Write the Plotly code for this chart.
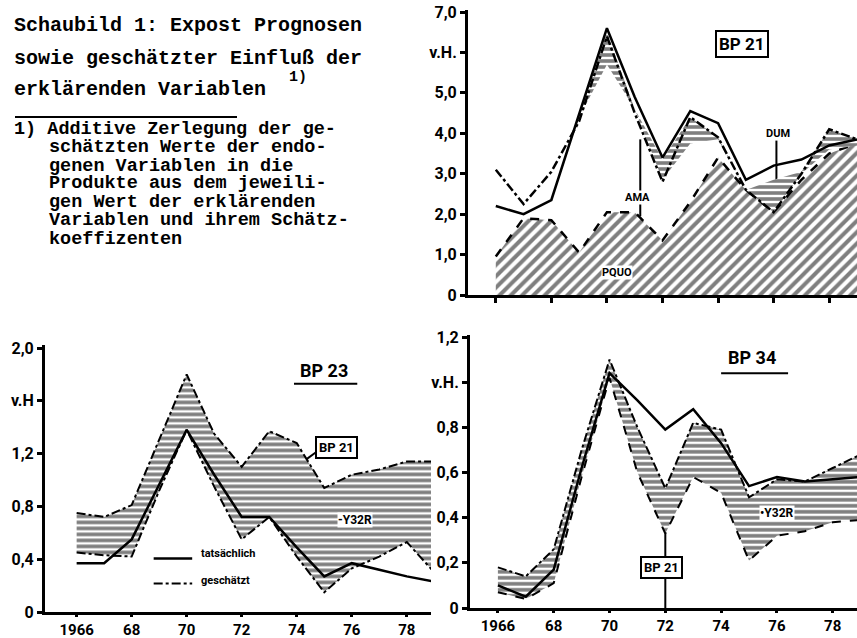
import plotly.graph_objects as go

years = list(range(1966, 1980))

# ---- BP 21 (top right) ----
bp21_actual = [2.2, 2.0, 2.35, 4.5, 6.6, 4.9, 3.4, 4.55, 4.25, 2.85, 3.2, 3.35, 3.7, 3.85]
bp21_estimated = [3.1, 2.25, 3.05, 4.3, 6.4, 4.5, 2.8, 4.4, 3.9, 2.6, 2.05, 3.0, 4.1, 3.85]
bp21_pquo = [0.95, 1.9, 1.85, 1.05, 2.05, 2.05, 1.35, 2.3, 3.4, 2.6, 2.05, 2.85, 3.5, 3.75]
bp21_band_hi = [3.1, 2.25, 3.05, 4.4, 6.5, 4.6, 3.35, 4.4, 3.9, 2.6, 2.85, 3.05, 4.1, 3.85]
bp21_band_lo = [3.1, 2.25, 3.05, 4.4, 5.7, 4.6, 2.85, 3.75, 3.85, 2.6, 2.05, 3.0, 3.6, 3.7]

# ---- BP 23 (bottom left) ----
bp23_actual = [0.37, 0.37, 0.55, 0.97, 1.38, 1.04, 0.72, 0.72, 0.49, 0.27, 0.37, 0.32, 0.27, 0.23]
bp23_estimated = [0.45, 0.43, 0.42, 0.92, 1.38, 0.95, 0.55, 0.72, 0.42, 0.15, 0.33, 0.42, 0.53, 0.30]
bp23_bp21 = [0.75, 0.72, 0.81, 1.3, 1.8, 1.35, 1.1, 1.37, 1.28, 0.94, 1.04, 1.08, 1.14, 1.14]

# ---- BP 34 (bottom right) ----
bp34_actual = [0.10, 0.05, 0.17, 0.62, 1.04, 0.92, 0.79, 0.88, 0.73, 0.54, 0.58, 0.56, 0.57, 0.58]
bp34_upper = [0.18, 0.14, 0.26, 0.70, 1.10, 0.80, 0.53, 0.82, 0.79, 0.49, 0.57, 0.56, 0.62, 0.68]
bp34_lower = [0.07, 0.04, 0.11, 0.58, 1.02, 0.60, 0.33, 0.58, 0.51, 0.21, 0.32, 0.34, 0.38, 0.39]

x_tickvals = [1966, 1968, 1970, 1972, 1974, 1976, 1978]
x_ticktext = ["1966", "68", "70", "72", "74", "76", "78"]
bp21_yvals = [0, 1, 2, 3, 4, 5, 6, 7]
bp21_ytext = ["0", "1,0", "2,0", "3,0", "4,0", "5,0", "v.H.", "7,0"]
bp23_yvals = [0, 0.4, 0.8, 1.2, 1.6, 2.0]
bp23_ytext = ["0", "0,4", "0,8", "1,2", "v.H", "2,0"]
bp34_yvals = [0, 0.2, 0.4, 0.6, 0.8, 1.0, 1.2]
bp34_ytext = ["0", "0,2", "0,4", "0,6", "0,8", "v.H.", "1,2"]

heading_lines = ["Schaubild 1: Expost Prognosen",
                 "sowie geschätzter Einfluß der",
                 "erklärenden Variablen"]
footnote_lines = ["1) Additive Zerlegung der ge-",
                  "schätzten Werte der endo-",
                  "genen Variablen in die",
                  "Produkte aus dem jeweili-",
                  "gen Wert der erklärenden",
                  "Variablen und ihrem Schätz-",
                  "koeffizenten"]

W, H = 857, 638
BLACK = "black"
HATCH_H = dict(shape="-", fgcolor=BLACK, bgcolor="white", size=6, solidity=0.6)
HATCH_D = dict(shape="/", fgcolor=BLACK, bgcolor="white", size=8, solidity=0.5)

fig = go.Figure()


def band(xa, ya, lo, hi):
    fig.add_trace(go.Scatter(x=years, y=lo, mode="lines", line=dict(width=0, color=BLACK),
                             xaxis=xa, yaxis=ya, showlegend=False, hoverinfo="skip"))
    fig.add_trace(go.Scatter(x=years, y=hi, mode="lines", line=dict(width=0, color=BLACK),
                             fill="tonexty", fillcolor="white", fillpattern=HATCH_H,
                             xaxis=xa, yaxis=ya, showlegend=False, hoverinfo="skip"))


def line(xa, ya, vals, dash, width=2.5):
    fig.add_trace(go.Scatter(x=years, y=vals, mode="lines",
                             line=dict(color=BLACK, width=width, dash=dash),
                             xaxis=xa, yaxis=ya, showlegend=False))


# BP 21
fig.add_trace(go.Scatter(x=years, y=bp21_pquo, mode="lines", fill="tozeroy", fillcolor="white",
                         fillpattern=HATCH_D, line=dict(color=BLACK, width=2.5, dash="dash"),
                         xaxis="x", yaxis="y", showlegend=False))
band("x", "y", bp21_band_lo, bp21_band_hi)
line("x", "y", bp21_estimated, "dashdot")
line("x", "y", bp21_actual, "solid")

# BP 23
band("x2", "y2", bp23_estimated, bp23_bp21)
line("x2", "y2", bp23_bp21, "dashdot", 2)
line("x2", "y2", bp23_estimated, "dashdot", 2)
line("x2", "y2", bp23_actual, "solid")

# BP 34
band("x3", "y3", bp34_lower, bp34_upper)
line("x3", "y3", bp34_upper, "dashdot", 2)
line("x3", "y3", bp34_lower, "dash", 2)
line("x3", "y3", bp34_actual, "solid")

tickfont = dict(family="Roboto", size=16, color=BLACK, weight="bold")
xtickfont = dict(family="Roboto", size=15, color=BLACK, weight="bold")
axis_common = dict(showline=True, linecolor=BLACK, linewidth=3, ticks="outside",
                   tickcolor=BLACK, tickwidth=2.5, showgrid=False, zeroline=False,
                   fixedrange=True, automargin=False)

fig.update_layout(
    width=W, height=H, autosize=False,
    margin=dict(l=0, r=0, t=0, b=0, pad=0),
    paper_bgcolor="white", plot_bgcolor="rgba(0,0,0,0)",
    showlegend=False,
    xaxis=dict(domain=[468 / W, 1.0], range=[1965.0, 1979.0], anchor="y",
               tickvals=x_tickvals, showticklabels=False, ticklen=5, tickfont=xtickfont, **axis_common),
    yaxis=dict(domain=[(H - 295) / H, (H - 10) / H], range=[0, 7.05], anchor="x",
               tickvals=bp21_yvals, ticktext=bp21_ytext, ticklen=5, tickfont=tickfont, **axis_common),
    xaxis2=dict(domain=[45 / W, 431 / W], range=[1964.85, 1978.88], anchor="y2",
                tickvals=x_tickvals, ticktext=x_ticktext, ticklen=2, tickfont=xtickfont, **axis_common),
    yaxis2=dict(domain=[(H - 612) / H, (H - 345.4) / H], range=[0, 2.02], anchor="x2",
                tickvals=bp23_yvals, ticktext=bp23_ytext, ticklen=5, tickfont=tickfont, **axis_common),
    xaxis3=dict(domain=[470 / W, 1.0], range=[1965.0, 1978.87], anchor="y3",
                tickvals=x_tickvals, ticktext=x_ticktext, ticklen=2, tickfont=xtickfont, **axis_common),
    yaxis3=dict(domain=[(H - 608) / H, (H - 334.8) / H], range=[0, 1.21], anchor="x3",
                tickvals=bp34_yvals, ticktext=bp34_ytext, ticklen=5, tickfont=tickfont, **axis_common),
)

ann = []
mono = "Liberation Mono"
head_y = [26, 59, 89]
for txt, yy in zip(heading_lines, head_y):
    ann.append(dict(text="<b>" + txt + "</b>", xref="paper", yref="paper", x=12 / W, y=(H - yy) / H,
                    xanchor="left", yanchor="middle", showarrow=False,
                    font=dict(family=mono, size=20, color=BLACK)))
ann.append(dict(text="<b>1)</b>", xref="paper", yref="paper", x=287 / W, y=(H - 78) / H,
                xanchor="left", yanchor="middle", showarrow=False,
                font=dict(family=mono, size=15, color=BLACK)))
foot_y = [129, 147.5, 166, 184, 202.5, 221, 239]
for i, (txt, yy) in enumerate(zip(footnote_lines, foot_y)):
    xx = 12 if i == 0 else 47
    ann.append(dict(text="<b>" + txt + "</b>", xref="paper", yref="paper", x=xx / W, y=(H - yy) / H,
                    xanchor="left", yanchor="middle", showarrow=False,
                    font=dict(family=mono, size=18.5, color=BLACK)))

lab = dict(family="Roboto", color=BLACK, weight="bold")
ann += [
    dict(text="BP 21", x=1974.85, y=6.2, xref="x", yref="y", showarrow=False,
         font=dict(size=17, **lab), bordercolor=BLACK, borderwidth=2, borderpad=2, bgcolor="white"),
    dict(text="AMA", x=1971.1, y=2.4, xref="x", yref="y", showarrow=False,
         font=dict(size=11, **lab), bgcolor="white", borderpad=0),
    dict(text="DUM", x=1976.15, y=4.0, xref="x", yref="y", showarrow=False,
         font=dict(size=11, **lab), bgcolor="white", borderpad=0),
    dict(text="PQUO", x=1970.35, y=0.55, xref="x", yref="y", showarrow=False,
         font=dict(size=11, **lab), bgcolor="white", borderpad=0),
    dict(text="BP 23", x=1975.0, y=1.83, xref="x2", yref="y2", showarrow=False,
         font=dict(size=18, **lab)),
    dict(text="BP 21", x=1975.45, y=1.25, xref="x2", yref="y2", showarrow=False,
         font=dict(size=13, **lab), bordercolor=BLACK, borderwidth=2, borderpad=2, bgcolor="white"),
    dict(text="-Y32R", x=1976.1, y=0.7, xref="x2", yref="y2", showarrow=False,
         font=dict(size=12, **lab), bgcolor="white", borderpad=0),
    dict(text="tatsächlich", x=1970.45, y=0.44, xref="x2", yref="y2", xanchor="left", showarrow=False,
         font=dict(size=11, **lab)),
    dict(text="geschätzt", x=1970.45, y=0.24, xref="x2", yref="y2", xanchor="left", showarrow=False,
         font=dict(size=11, **lab)),
    dict(text="BP 34", x=1975.1, y=1.11, xref="x3", yref="y3", showarrow=False,
         font=dict(size=18, **lab)),
    dict(text="•Y32R", x=1976.0, y=0.42, xref="x3", yref="y3", showarrow=False,
         font=dict(size=12, **lab), bgcolor="white", borderpad=0),
    dict(text="BP 21", x=1971.85, y=0.18, xref="x3", yref="y3", showarrow=False,
         font=dict(size=13, **lab), bordercolor=BLACK, borderwidth=2, borderpad=2, bgcolor="white"),
]
fig.update_layout(annotations=ann)

shapes = [
    dict(type="line", xref="paper", yref="paper", x0=15 / W, x1=237 / W, y0=(H - 117) / H, y1=(H - 117) / H,
         line=dict(color=BLACK, width=2)),
    dict(type="line", xref="x", yref="y", x0=1971.2, x1=1971.2, y0=1.95, y1=3.85,
         line=dict(color=BLACK, width=2), layer="below"),
    dict(type="line", xref="x", yref="y", x0=1976.1, x1=1976.1, y0=2.68, y1=3.83,
         line=dict(color=BLACK, width=2), layer="below"),
    dict(type="line", xref="x2", yref="y2", x0=1973.9, x1=1976.2, y0=1.73, y1=1.73,
         line=dict(color=BLACK, width=2)),
    dict(type="line", xref="x2", yref="y2", x0=1974.37, x1=1974.7, y0=1.16, y1=1.21,
         line=dict(color=BLACK, width=2)),
    dict(type="line", xref="x2", yref="y2", x0=1968.8, x1=1970.2, y0=0.405, y1=0.405,
         line=dict(color=BLACK, width=2.5)),
    dict(type="line", xref="x2", yref="y2", x0=1968.8, x1=1970.2, y0=0.215, y1=0.215,
         line=dict(color=BLACK, width=2, dash="dashdot")),
    dict(type="line", xref="x3", yref="y3", x0=1974.0, x1=1976.4, y0=1.04, y1=1.04,
         line=dict(color=BLACK, width=2)),
    dict(type="line", xref="x3", yref="y3", x0=1972.0, x1=1972.0, y0=0.0, y1=0.33,
         line=dict(color=BLACK, width=2), layer="below"),
]
fig.update_layout(shapes=shapes)

fig.write_html("out.html",
               config={"displayModeBar": False},
               post_script="document.body.style.margin='0';"
                           "document.body.style.overflow='hidden';"
                           "document.documentElement.style.overflow='hidden';")
